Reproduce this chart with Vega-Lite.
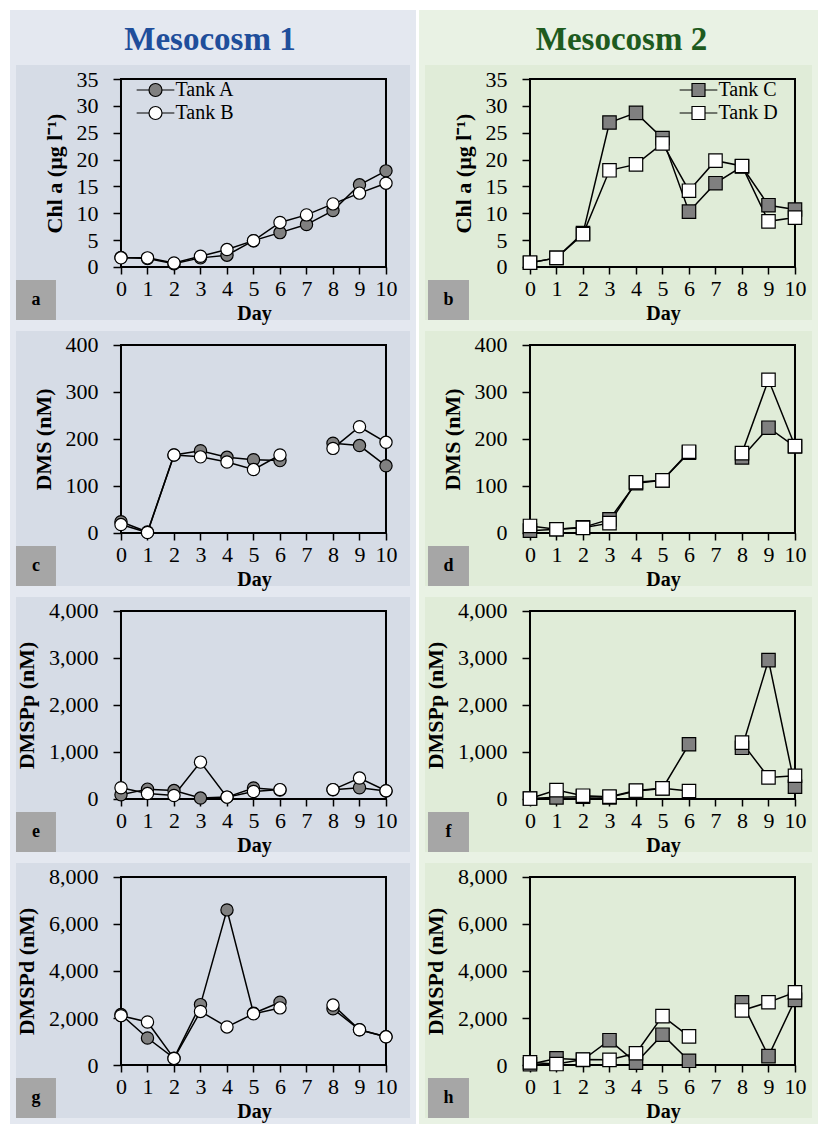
{
  "$schema": "https://vega.github.io/schema/vega-lite/v6.json",
  "background": "white",
  "padding": {"left": 10, "top": 10, "right": 0, "bottom": 0},
  "autosize": {"type": "pad"},
  "spacing": 3,
  "resolve": {"scale": {"fill": "independent", "x": "independent", "y": "independent"}, "legend": {"fill": "independent"}},
  "datasets": {
    "obs": [
      {"meso": "M1", "tank": "Tank A", "day": 0, "chl": 1.75, "dms": 24, "dmspp": 90, "dmspd": 2150},
      {"meso": "M1", "tank": "Tank A", "day": 1, "chl": 1.6, "dms": 2, "dmspp": 210, "dmspd": 1150},
      {"meso": "M1", "tank": "Tank A", "day": 2, "chl": 0.6, "dms": 166, "dmspp": 180, "dmspd": 290},
      {"meso": "M1", "tank": "Tank A", "day": 3, "chl": 1.7, "dms": 175, "dmspp": 20, "dmspd": 2570},
      {"meso": "M1", "tank": "Tank A", "day": 4, "chl": 2.2, "dms": 161, "dmspp": 40, "dmspd": 6600},
      {"meso": "M1", "tank": "Tank A", "day": 5, "chl": 4.9, "dms": 156, "dmspp": 235, "dmspd": 2200},
      {"meso": "M1", "tank": "Tank A", "day": 6, "chl": 6.4, "dms": 154, "dmspp": 190, "dmspd": 2670},
      {"meso": "M1", "tank": "Tank A", "day": 7, "chl": 7.9, "dms": null, "dmspp": null, "dmspd": null},
      {"meso": "M1", "tank": "Tank A", "day": 8, "chl": 10.5, "dms": 191, "dmspp": 195, "dmspd": 2390},
      {"meso": "M1", "tank": "Tank A", "day": 9, "chl": 15.3, "dms": 186, "dmspp": 240, "dmspd": 1500},
      {"meso": "M1", "tank": "Tank A", "day": 10, "chl": 17.9, "dms": 143, "dmspp": 170, "dmspd": 1200},
      {"meso": "M1", "tank": "Tank B", "day": 0, "chl": 1.7, "dms": 18, "dmspp": 240, "dmspd": 2100},
      {"meso": "M1", "tank": "Tank B", "day": 1, "chl": 1.7, "dms": 1, "dmspp": 115, "dmspd": 1830},
      {"meso": "M1", "tank": "Tank B", "day": 2, "chl": 0.75, "dms": 166, "dmspp": 75, "dmspd": 280},
      {"meso": "M1", "tank": "Tank B", "day": 3, "chl": 2.0, "dms": 162, "dmspp": 785, "dmspd": 2280},
      {"meso": "M1", "tank": "Tank B", "day": 4, "chl": 3.25, "dms": 151, "dmspp": 40, "dmspd": 1620},
      {"meso": "M1", "tank": "Tank B", "day": 5, "chl": 4.9, "dms": 135, "dmspp": 160, "dmspd": 2180},
      {"meso": "M1", "tank": "Tank B", "day": 6, "chl": 8.3, "dms": 166, "dmspp": 200, "dmspd": 2430},
      {"meso": "M1", "tank": "Tank B", "day": 7, "chl": 9.7, "dms": null, "dmspp": null, "dmspd": null},
      {"meso": "M1", "tank": "Tank B", "day": 8, "chl": 11.75, "dms": 180, "dmspp": 200, "dmspd": 2550},
      {"meso": "M1", "tank": "Tank B", "day": 9, "chl": 13.75, "dms": 226, "dmspp": 445, "dmspd": 1500},
      {"meso": "M1", "tank": "Tank B", "day": 10, "chl": 15.6, "dms": 193, "dmspp": 175, "dmspd": 1200},
      {"meso": "M2", "tank": "Tank C", "day": 0, "chl": 0.8, "dms": 5, "dmspp": 10, "dmspd": 30},
      {"meso": "M2", "tank": "Tank C", "day": 1, "chl": 1.7, "dms": 8, "dmspp": 35, "dmspd": 280},
      {"meso": "M2", "tank": "Tank C", "day": 2, "chl": 6.3, "dms": 12, "dmspp": 50, "dmspd": 220},
      {"meso": "M2", "tank": "Tank C", "day": 3, "chl": 26.9, "dms": 29, "dmspp": 35, "dmspd": 1055},
      {"meso": "M2", "tank": "Tank C", "day": 4, "chl": 28.7, "dms": 106, "dmspp": 170, "dmspd": 100},
      {"meso": "M2", "tank": "Tank C", "day": 5, "chl": 24.0, "dms": 112, "dmspp": 225, "dmspd": 1290},
      {"meso": "M2", "tank": "Tank C", "day": 6, "chl": 10.3, "dms": 171, "dmspp": 1165, "dmspd": 180},
      {"meso": "M2", "tank": "Tank C", "day": 7, "chl": 15.6, "dms": null, "dmspp": null, "dmspd": null},
      {"meso": "M2", "tank": "Tank C", "day": 8, "chl": 18.7, "dms": 161, "dmspp": 1090, "dmspd": 2670},
      {"meso": "M2", "tank": "Tank C", "day": 9, "chl": 11.5, "dms": 224, "dmspp": 2955, "dmspd": 380},
      {"meso": "M2", "tank": "Tank C", "day": 10, "chl": 10.7, "dms": 184, "dmspp": 262, "dmspd": 2770},
      {"meso": "M2", "tank": "Tank D", "day": 0, "chl": 0.8, "dms": 15, "dmspp": 10, "dmspd": 110},
      {"meso": "M2", "tank": "Tank D", "day": 1, "chl": 1.7, "dms": 8, "dmspp": 190, "dmspd": 40},
      {"meso": "M2", "tank": "Tank D", "day": 2, "chl": 6.1, "dms": 11, "dmspp": 70, "dmspd": 230},
      {"meso": "M2", "tank": "Tank D", "day": 3, "chl": 18.0, "dms": 21, "dmspp": 50, "dmspd": 220},
      {"meso": "M2", "tank": "Tank D", "day": 4, "chl": 19.1, "dms": 108, "dmspp": 180, "dmspd": 500},
      {"meso": "M2", "tank": "Tank D", "day": 5, "chl": 23.0, "dms": 112, "dmspp": 228, "dmspd": 2080},
      {"meso": "M2", "tank": "Tank D", "day": 6, "chl": 14.2, "dms": 173, "dmspp": 170, "dmspd": 1220},
      {"meso": "M2", "tank": "Tank D", "day": 7, "chl": 19.8, "dms": null, "dmspp": null, "dmspd": null},
      {"meso": "M2", "tank": "Tank D", "day": 8, "chl": 18.8, "dms": 170, "dmspp": 1200, "dmspd": 2320},
      {"meso": "M2", "tank": "Tank D", "day": 9, "chl": 8.5, "dms": 326, "dmspp": 460, "dmspd": 2670},
      {"meso": "M2", "tank": "Tank D", "day": 10, "chl": 9.2, "dms": 185, "dmspp": 495, "dmspd": 3090}
    ]
  },
  "hconcat": [
    {
      "bounds": "flush",
      "spacing": 5,
      "resolve": {"scale": {"fill": "independent", "x": "independent", "y": "independent"}, "legend": {"fill": "independent"}},
      "vconcat": [
        {
          "width": 400, "height": 44,
          "view": {"fill": "#e4e8f0", "stroke": "#e4e8f0", "strokeWidth": 6},
          "data": {"values": [{"label": "Mesocosm 1"}]},
          "mark": {"type": "text", "font": "Liberation Serif", "fontSize": 33, "fontWeight": "bold", "color": "#1f4e9b", "baseline": "alphabetic", "dy": 15, "dx": -3},
          "encoding": {"text": {"field": "label"}}
        },
        {
          "width": 400, "height": 261,
          "view": {"fill": "#d6dce6", "stroke": "#e4e8f0", "strokeWidth": 6},
          "layer": [
            {"data": {"name": "obs"}, "transform": [{"filter": {"field": "meso", "equal": "M1"}}],
             "mark": {"type": "line", "color": "black", "strokeWidth": 1.5},
             "encoding": {
               "x": {"field": "day", "type": "quantitative", "scale": {"domain": [-4.075, 11.019], "nice": false, "zero": false},
                     "axis": {"values": [0,1,2,3,4,5,6,7,8,9,10], "tickCount": 30, "format": "d", "labelOverlap": false, "labelFlush": false, "offset": -56, "tickSize": 7, "labelPadding": 4, "title": "Day", "titleFontSize": 20, "titleX": 241, "titleY": 52, "titleBaseline": "alphabetic"}},
               "y": {"field": "chl", "type": "quantitative", "scale": {"domain": [-10.426, 38.165], "nice": false, "zero": false},
                     "axis": {"values": [0,5,10,15,20,25,30,35], "tickCount": 30, "format": ",.0f", "labelOverlap": false, "labelFlush": false, "offset": -108, "tickSize": 8, "labelPadding": 15, "title": "Chl a (µg l⁻¹)", "titleY": 111, "titlePadding": 10}},
               "detail": {"field": "tank"}}},
            {"data": {"values": [{"panel": "a"}]}, "mark": {"type": "rect", "fillOpacity": 0, "stroke": "black", "strokeWidth": 2},
             "encoding": {"x": {"datum": 0, "type": "quantitative", "scale": {"domain": [-4.075, 11.019], "nice": false, "zero": false}}, "x2": {"datum": 10},
                          "y": {"datum": 0, "type": "quantitative", "scale": {"domain": [-10.426, 38.165], "nice": false, "zero": false}}, "y2": {"datum": 35}}},
            {"data": {"values": [{"panel": "a"}]}, "mark": {"type": "rect", "fill": "#a6a6a6"},
             "encoding": {"x": {"datum": -3.962, "type": "quantitative", "scale": {"domain": [-4.075, 11.019], "nice": false, "zero": false}}, "x2": {"datum": -2.453},
                          "y": {"datum": -2.42, "type": "quantitative", "scale": {"domain": [-10.426, 38.165], "nice": false, "zero": false}}, "y2": {"datum": -9.867}}},
            {"data": {"values": [{"panel": "a"}]}, "mark": {"type": "text", "font": "Liberation Serif", "fontSize": 18, "fontWeight": "bold", "color": "black"},
             "encoding": {"x": {"datum": -3.208, "type": "quantitative", "scale": {"domain": [-4.075, 11.019], "nice": false, "zero": false}},
                          "y": {"datum": -6.144, "type": "quantitative", "scale": {"domain": [-10.426, 38.165], "nice": false, "zero": false}}, "text": {"field": "panel"}}},
            {"data": {"name": "obs"}, "transform": [{"filter": {"field": "meso", "equal": "M1"}}],
             "mark": {"type": "point", "shape": "circle", "filled": true, "stroke": "black", "strokeWidth": 1.2, "size": 150, "opacity": 1},
             "encoding": {
               "x": {"field": "day", "type": "quantitative", "scale": {"domain": [-4.075, 11.019], "nice": false, "zero": false}},
               "y": {"field": "chl", "type": "quantitative", "scale": {"domain": [-10.426, 38.165], "nice": false, "zero": false}},
               "fill": {"field": "tank", "type": "nominal", "scale": {"domain": ["Tank A", "Tank B"], "range": ["#808080", "#ffffff"]},
                        "legend": {"orient": "none", "legendX": 132.5, "legendY": 18, "title": null, "padding": 0,
                                   "symbolType": "M-2.9,0L-1,0M1,0L2.9,0M-1,0A1,1,0,1,1,1,0A1,1,0,1,1,-1,0Z",
                                   "symbolSize": 169, "symbolStrokeColor": "black", "symbolStrokeWidth": 1.2, "symbolOpacity": 1,
                                   "labelFont": "Liberation Serif", "labelFontSize": 20, "labelColor": "black", "labelOffset": 10, "rowPadding": 3}}}}
          ]
        },
        {
          "width": 400, "height": 261,
          "view": {"fill": "#d6dce6", "stroke": "#e4e8f0", "strokeWidth": 6},
          "layer": [
            {"data": {"name": "obs"}, "transform": [{"filter": {"field": "meso", "equal": "M1"}}],
             "mark": {"type": "line", "color": "black", "strokeWidth": 1.5},
             "encoding": {
               "x": {"field": "day", "type": "quantitative", "scale": {"domain": [-4.075, 11.019], "nice": false, "zero": false},
                     "axis": {"values": [0,1,2,3,4,5,6,7,8,9,10], "tickCount": 30, "format": "d", "labelOverlap": false, "labelFlush": false, "offset": -56, "tickSize": 7, "labelPadding": 4, "title": "Day", "titleFontSize": 20, "titleX": 241, "titleY": 52, "titleBaseline": "alphabetic"}},
               "y": {"field": "dms", "type": "quantitative", "scale": {"domain": [-119.15, 436.17], "nice": false, "zero": false},
                     "axis": {"values": [0,100,200,300,400], "tickCount": 30, "format": ",.0f", "labelOverlap": false, "labelFlush": false, "offset": -108, "tickSize": 8, "labelPadding": 15, "title": "DMS (nM)", "titleY": 111, "titlePadding": 10}},
               "detail": {"field": "tank"}}},
            {"data": {"values": [{"panel": "c"}]}, "mark": {"type": "rect", "fillOpacity": 0, "stroke": "black", "strokeWidth": 2},
             "encoding": {"x": {"datum": 0, "type": "quantitative", "scale": {"domain": [-4.075, 11.019], "nice": false, "zero": false}}, "x2": {"datum": 10},
                          "y": {"datum": 0, "type": "quantitative", "scale": {"domain": [-119.15, 436.17], "nice": false, "zero": false}}, "y2": {"datum": 400}}},
            {"data": {"values": [{"panel": "c"}]}, "mark": {"type": "rect", "fill": "#a6a6a6"},
             "encoding": {"x": {"datum": -3.962, "type": "quantitative", "scale": {"domain": [-4.075, 11.019], "nice": false, "zero": false}}, "x2": {"datum": -2.453},
                          "y": {"datum": -27.66, "type": "quantitative", "scale": {"domain": [-119.15, 436.17], "nice": false, "zero": false}}, "y2": {"datum": -112.77}}},
            {"data": {"values": [{"panel": "c"}]}, "mark": {"type": "text", "font": "Liberation Serif", "fontSize": 18, "fontWeight": "bold", "color": "black"},
             "encoding": {"x": {"datum": -3.208, "type": "quantitative", "scale": {"domain": [-4.075, 11.019], "nice": false, "zero": false}},
                          "y": {"datum": -70.21, "type": "quantitative", "scale": {"domain": [-119.15, 436.17], "nice": false, "zero": false}}, "text": {"field": "panel"}}},
            {"data": {"name": "obs"}, "transform": [{"filter": {"field": "meso", "equal": "M1"}}],
             "mark": {"type": "point", "shape": "circle", "filled": true, "stroke": "black", "strokeWidth": 1.2, "size": 150, "opacity": 1},
             "encoding": {
               "x": {"field": "day", "type": "quantitative", "scale": {"domain": [-4.075, 11.019], "nice": false, "zero": false}},
               "y": {"field": "dms", "type": "quantitative", "scale": {"domain": [-119.15, 436.17], "nice": false, "zero": false}},
               "fill": {"field": "tank", "type": "nominal", "scale": {"domain": ["Tank A", "Tank B"], "range": ["#808080", "#ffffff"]}, "legend": null}}}
          ]
        },
        {
          "width": 400, "height": 261,
          "view": {"fill": "#d6dce6", "stroke": "#e4e8f0", "strokeWidth": 6},
          "layer": [
            {"data": {"name": "obs"}, "transform": [{"filter": {"field": "meso", "equal": "M1"}}],
             "mark": {"type": "line", "color": "black", "strokeWidth": 1.5},
             "encoding": {
               "x": {"field": "day", "type": "quantitative", "scale": {"domain": [-4.075, 11.019], "nice": false, "zero": false},
                     "axis": {"values": [0,1,2,3,4,5,6,7,8,9,10], "tickCount": 30, "format": "d", "labelOverlap": false, "labelFlush": false, "offset": -56, "tickSize": 7, "labelPadding": 4, "title": "Day", "titleFontSize": 20, "titleX": 241, "titleY": 52, "titleBaseline": "alphabetic"}},
               "y": {"field": "dmspp", "type": "quantitative", "scale": {"domain": [-1191.49, 4361.7], "nice": false, "zero": false},
                     "axis": {"values": [0,1000,2000,3000,4000], "tickCount": 30, "format": ",.0f", "labelOverlap": false, "labelFlush": false, "offset": -108, "tickSize": 8, "labelPadding": 15, "title": "DMSPp (nM)", "titleY": 111, "titlePadding": 10}},
               "detail": {"field": "tank"}}},
            {"data": {"values": [{"panel": "e"}]}, "mark": {"type": "rect", "fillOpacity": 0, "stroke": "black", "strokeWidth": 2},
             "encoding": {"x": {"datum": 0, "type": "quantitative", "scale": {"domain": [-4.075, 11.019], "nice": false, "zero": false}}, "x2": {"datum": 10},
                          "y": {"datum": 0, "type": "quantitative", "scale": {"domain": [-1191.49, 4361.7], "nice": false, "zero": false}}, "y2": {"datum": 4000}}},
            {"data": {"values": [{"panel": "e"}]}, "mark": {"type": "rect", "fill": "#a6a6a6"},
             "encoding": {"x": {"datum": -3.962, "type": "quantitative", "scale": {"domain": [-4.075, 11.019], "nice": false, "zero": false}}, "x2": {"datum": -2.453},
                          "y": {"datum": -276.6, "type": "quantitative", "scale": {"domain": [-1191.49, 4361.7], "nice": false, "zero": false}}, "y2": {"datum": -1127.7}}},
            {"data": {"values": [{"panel": "e"}]}, "mark": {"type": "text", "font": "Liberation Serif", "fontSize": 18, "fontWeight": "bold", "color": "black"},
             "encoding": {"x": {"datum": -3.208, "type": "quantitative", "scale": {"domain": [-4.075, 11.019], "nice": false, "zero": false}},
                          "y": {"datum": -702.1, "type": "quantitative", "scale": {"domain": [-1191.49, 4361.7], "nice": false, "zero": false}}, "text": {"field": "panel"}}},
            {"data": {"name": "obs"}, "transform": [{"filter": {"field": "meso", "equal": "M1"}}],
             "mark": {"type": "point", "shape": "circle", "filled": true, "stroke": "black", "strokeWidth": 1.2, "size": 150, "opacity": 1},
             "encoding": {
               "x": {"field": "day", "type": "quantitative", "scale": {"domain": [-4.075, 11.019], "nice": false, "zero": false}},
               "y": {"field": "dmspp", "type": "quantitative", "scale": {"domain": [-1191.49, 4361.7], "nice": false, "zero": false}},
               "fill": {"field": "tank", "type": "nominal", "scale": {"domain": ["Tank A", "Tank B"], "range": ["#808080", "#ffffff"]}, "legend": null}}}
          ]
        },
        {
          "width": 400, "height": 261,
          "view": {"fill": "#d6dce6", "stroke": "#e4e8f0", "strokeWidth": 6},
          "layer": [
            {"data": {"name": "obs"}, "transform": [{"filter": {"field": "meso", "equal": "M1"}}],
             "mark": {"type": "line", "color": "black", "strokeWidth": 1.5},
             "encoding": {
               "x": {"field": "day", "type": "quantitative", "scale": {"domain": [-4.075, 11.019], "nice": false, "zero": false},
                     "axis": {"values": [0,1,2,3,4,5,6,7,8,9,10], "tickCount": 30, "format": "d", "labelOverlap": false, "labelFlush": false, "offset": -56, "tickSize": 7, "labelPadding": 4, "title": "Day", "titleFontSize": 20, "titleX": 241, "titleY": 52, "titleBaseline": "alphabetic"}},
               "y": {"field": "dmspd", "type": "quantitative", "scale": {"domain": [-2382.98, 8723.4], "nice": false, "zero": false},
                     "axis": {"values": [0,2000,4000,6000,8000], "tickCount": 30, "format": ",.0f", "labelOverlap": false, "labelFlush": false, "offset": -108, "tickSize": 8, "labelPadding": 15, "title": "DMSPd (nM)", "titleY": 111, "titlePadding": 10}},
               "detail": {"field": "tank"}}},
            {"data": {"values": [{"panel": "g"}]}, "mark": {"type": "rect", "fillOpacity": 0, "stroke": "black", "strokeWidth": 2},
             "encoding": {"x": {"datum": 0, "type": "quantitative", "scale": {"domain": [-4.075, 11.019], "nice": false, "zero": false}}, "x2": {"datum": 10},
                          "y": {"datum": 0, "type": "quantitative", "scale": {"domain": [-2382.98, 8723.4], "nice": false, "zero": false}}, "y2": {"datum": 8000}}},
            {"data": {"values": [{"panel": "g"}]}, "mark": {"type": "rect", "fill": "#a6a6a6"},
             "encoding": {"x": {"datum": -3.962, "type": "quantitative", "scale": {"domain": [-4.075, 11.019], "nice": false, "zero": false}}, "x2": {"datum": -2.453},
                          "y": {"datum": -553.2, "type": "quantitative", "scale": {"domain": [-2382.98, 8723.4], "nice": false, "zero": false}}, "y2": {"datum": -2255.3}}},
            {"data": {"values": [{"panel": "g"}]}, "mark": {"type": "text", "font": "Liberation Serif", "fontSize": 18, "fontWeight": "bold", "color": "black"},
             "encoding": {"x": {"datum": -3.208, "type": "quantitative", "scale": {"domain": [-4.075, 11.019], "nice": false, "zero": false}},
                          "y": {"datum": -1404.3, "type": "quantitative", "scale": {"domain": [-2382.98, 8723.4], "nice": false, "zero": false}}, "text": {"field": "panel"}}},
            {"data": {"name": "obs"}, "transform": [{"filter": {"field": "meso", "equal": "M1"}}],
             "mark": {"type": "point", "shape": "circle", "filled": true, "stroke": "black", "strokeWidth": 1.2, "size": 150, "opacity": 1},
             "encoding": {
               "x": {"field": "day", "type": "quantitative", "scale": {"domain": [-4.075, 11.019], "nice": false, "zero": false}},
               "y": {"field": "dmspd", "type": "quantitative", "scale": {"domain": [-2382.98, 8723.4], "nice": false, "zero": false}},
               "fill": {"field": "tank", "type": "nominal", "scale": {"domain": ["Tank A", "Tank B"], "range": ["#808080", "#ffffff"]}, "legend": null}}}
          ]
        }
      ]
    },
    {
      "bounds": "flush",
      "spacing": 5,
      "resolve": {"scale": {"fill": "independent", "x": "independent", "y": "independent"}, "legend": {"fill": "independent"}},
      "vconcat": [
        {
          "width": 393, "height": 44,
          "view": {"fill": "#e9f2e4", "stroke": "#e9f2e4", "strokeWidth": 6},
          "data": {"values": [{"label": "Mesocosm 2"}]},
          "mark": {"type": "text", "font": "Liberation Serif", "fontSize": 33, "fontWeight": "bold", "color": "#1e5b1e", "baseline": "alphabetic", "dy": 15, "dx": 3},
          "encoding": {"text": {"field": "label"}}
        },
        {
          "width": 393, "height": 261,
          "view": {"fill": "#e0ecd8", "stroke": "#e9f2e4", "strokeWidth": 6},
          "layer": [
            {"data": {"name": "obs"}, "transform": [{"filter": {"field": "meso", "equal": "M2"}}],
             "mark": {"type": "line", "color": "black", "strokeWidth": 1.5},
             "encoding": {
               "x": {"field": "day", "type": "quantitative", "scale": {"domain": [-4.075, 10.755], "nice": false, "zero": false},
                     "axis": {"values": [0,1,2,3,4,5,6,7,8,9,10], "tickCount": 30, "format": "d", "labelOverlap": false, "labelFlush": false, "offset": -56, "tickSize": 7, "labelPadding": 4, "title": "Day", "titleFontSize": 20, "titleX": 241, "titleY": 52, "titleBaseline": "alphabetic"}},
               "y": {"field": "chl", "type": "quantitative", "scale": {"domain": [-10.426, 38.165], "nice": false, "zero": false},
                     "axis": {"values": [0,5,10,15,20,25,30,35], "tickCount": 30, "format": ",.0f", "labelOverlap": false, "labelFlush": false, "offset": -108, "tickSize": 8, "labelPadding": 15, "title": "Chl a (µg l⁻¹)", "titleY": 111, "titlePadding": 10}},
               "detail": {"field": "tank"}}},
            {"data": {"values": [{"panel": "b"}]}, "mark": {"type": "rect", "fillOpacity": 0, "stroke": "black", "strokeWidth": 2},
             "encoding": {"x": {"datum": 0, "type": "quantitative", "scale": {"domain": [-4.075, 10.755], "nice": false, "zero": false}}, "x2": {"datum": 10},
                          "y": {"datum": 0, "type": "quantitative", "scale": {"domain": [-10.426, 38.165], "nice": false, "zero": false}}, "y2": {"datum": 35}}},
            {"data": {"values": [{"panel": "b"}]}, "mark": {"type": "rect", "fill": "#a6a6a6"},
             "encoding": {"x": {"datum": -3.849, "type": "quantitative", "scale": {"domain": [-4.075, 10.755], "nice": false, "zero": false}}, "x2": {"datum": -2.302},
                          "y": {"datum": -2.42, "type": "quantitative", "scale": {"domain": [-10.426, 38.165], "nice": false, "zero": false}}, "y2": {"datum": -9.867}}},
            {"data": {"values": [{"panel": "b"}]}, "mark": {"type": "text", "font": "Liberation Serif", "fontSize": 18, "fontWeight": "bold", "color": "black"},
             "encoding": {"x": {"datum": -3.075, "type": "quantitative", "scale": {"domain": [-4.075, 10.755], "nice": false, "zero": false}},
                          "y": {"datum": -6.144, "type": "quantitative", "scale": {"domain": [-10.426, 38.165], "nice": false, "zero": false}}, "text": {"field": "panel"}}},
            {"data": {"name": "obs"}, "transform": [{"filter": {"field": "meso", "equal": "M2"}}],
             "mark": {"type": "point", "shape": "square", "filled": true, "stroke": "black", "strokeWidth": 1.2, "size": 180, "opacity": 1},
             "encoding": {
               "x": {"field": "day", "type": "quantitative", "scale": {"domain": [-4.075, 10.755], "nice": false, "zero": false}},
               "y": {"field": "chl", "type": "quantitative", "scale": {"domain": [-10.426, 38.165], "nice": false, "zero": false}},
               "fill": {"field": "tank", "type": "nominal", "scale": {"domain": ["Tank C", "Tank D"], "range": ["#808080", "#ffffff"]},
                        "legend": {"orient": "none", "legendX": 266.5, "legendY": 18, "title": null, "padding": 0,
                                   "symbolType": "M-2.9,0L-1,0M1,0L2.9,0M-1,-1L1,-1L1,1L-1,1Z",
                                   "symbolSize": 169, "symbolStrokeColor": "black", "symbolStrokeWidth": 1.2, "symbolOpacity": 1,
                                   "labelFont": "Liberation Serif", "labelFontSize": 20, "labelColor": "black", "labelOffset": 10, "rowPadding": 3}}}}
          ]
        },
        {
          "width": 393, "height": 261,
          "view": {"fill": "#e0ecd8", "stroke": "#e9f2e4", "strokeWidth": 6},
          "layer": [
            {"data": {"name": "obs"}, "transform": [{"filter": {"field": "meso", "equal": "M2"}}],
             "mark": {"type": "line", "color": "black", "strokeWidth": 1.5},
             "encoding": {
               "x": {"field": "day", "type": "quantitative", "scale": {"domain": [-4.075, 10.755], "nice": false, "zero": false},
                     "axis": {"values": [0,1,2,3,4,5,6,7,8,9,10], "tickCount": 30, "format": "d", "labelOverlap": false, "labelFlush": false, "offset": -56, "tickSize": 7, "labelPadding": 4, "title": "Day", "titleFontSize": 20, "titleX": 241, "titleY": 52, "titleBaseline": "alphabetic"}},
               "y": {"field": "dms", "type": "quantitative", "scale": {"domain": [-119.15, 436.17], "nice": false, "zero": false},
                     "axis": {"values": [0,100,200,300,400], "tickCount": 30, "format": ",.0f", "labelOverlap": false, "labelFlush": false, "offset": -108, "tickSize": 8, "labelPadding": 15, "title": "DMS (nM)", "titleY": 111, "titlePadding": 10}},
               "detail": {"field": "tank"}}},
            {"data": {"values": [{"panel": "d"}]}, "mark": {"type": "rect", "fillOpacity": 0, "stroke": "black", "strokeWidth": 2},
             "encoding": {"x": {"datum": 0, "type": "quantitative", "scale": {"domain": [-4.075, 10.755], "nice": false, "zero": false}}, "x2": {"datum": 10},
                          "y": {"datum": 0, "type": "quantitative", "scale": {"domain": [-119.15, 436.17], "nice": false, "zero": false}}, "y2": {"datum": 400}}},
            {"data": {"values": [{"panel": "d"}]}, "mark": {"type": "rect", "fill": "#a6a6a6"},
             "encoding": {"x": {"datum": -3.849, "type": "quantitative", "scale": {"domain": [-4.075, 10.755], "nice": false, "zero": false}}, "x2": {"datum": -2.302},
                          "y": {"datum": -27.66, "type": "quantitative", "scale": {"domain": [-119.15, 436.17], "nice": false, "zero": false}}, "y2": {"datum": -112.77}}},
            {"data": {"values": [{"panel": "d"}]}, "mark": {"type": "text", "font": "Liberation Serif", "fontSize": 18, "fontWeight": "bold", "color": "black"},
             "encoding": {"x": {"datum": -3.075, "type": "quantitative", "scale": {"domain": [-4.075, 10.755], "nice": false, "zero": false}},
                          "y": {"datum": -70.21, "type": "quantitative", "scale": {"domain": [-119.15, 436.17], "nice": false, "zero": false}}, "text": {"field": "panel"}}},
            {"data": {"name": "obs"}, "transform": [{"filter": {"field": "meso", "equal": "M2"}}],
             "mark": {"type": "point", "shape": "square", "filled": true, "stroke": "black", "strokeWidth": 1.2, "size": 180, "opacity": 1},
             "encoding": {
               "x": {"field": "day", "type": "quantitative", "scale": {"domain": [-4.075, 10.755], "nice": false, "zero": false}},
               "y": {"field": "dms", "type": "quantitative", "scale": {"domain": [-119.15, 436.17], "nice": false, "zero": false}},
               "fill": {"field": "tank", "type": "nominal", "scale": {"domain": ["Tank C", "Tank D"], "range": ["#808080", "#ffffff"]}, "legend": null}}}
          ]
        },
        {
          "width": 393, "height": 261,
          "view": {"fill": "#e0ecd8", "stroke": "#e9f2e4", "strokeWidth": 6},
          "layer": [
            {"data": {"name": "obs"}, "transform": [{"filter": {"field": "meso", "equal": "M2"}}],
             "mark": {"type": "line", "color": "black", "strokeWidth": 1.5},
             "encoding": {
               "x": {"field": "day", "type": "quantitative", "scale": {"domain": [-4.075, 10.755], "nice": false, "zero": false},
                     "axis": {"values": [0,1,2,3,4,5,6,7,8,9,10], "tickCount": 30, "format": "d", "labelOverlap": false, "labelFlush": false, "offset": -56, "tickSize": 7, "labelPadding": 4, "title": "Day", "titleFontSize": 20, "titleX": 241, "titleY": 52, "titleBaseline": "alphabetic"}},
               "y": {"field": "dmspp", "type": "quantitative", "scale": {"domain": [-1191.49, 4361.7], "nice": false, "zero": false},
                     "axis": {"values": [0,1000,2000,3000,4000], "tickCount": 30, "format": ",.0f", "labelOverlap": false, "labelFlush": false, "offset": -108, "tickSize": 8, "labelPadding": 15, "title": "DMSPp (nM)", "titleY": 111, "titlePadding": 10}},
               "detail": {"field": "tank"}}},
            {"data": {"values": [{"panel": "f"}]}, "mark": {"type": "rect", "fillOpacity": 0, "stroke": "black", "strokeWidth": 2},
             "encoding": {"x": {"datum": 0, "type": "quantitative", "scale": {"domain": [-4.075, 10.755], "nice": false, "zero": false}}, "x2": {"datum": 10},
                          "y": {"datum": 0, "type": "quantitative", "scale": {"domain": [-1191.49, 4361.7], "nice": false, "zero": false}}, "y2": {"datum": 4000}}},
            {"data": {"values": [{"panel": "f"}]}, "mark": {"type": "rect", "fill": "#a6a6a6"},
             "encoding": {"x": {"datum": -3.849, "type": "quantitative", "scale": {"domain": [-4.075, 10.755], "nice": false, "zero": false}}, "x2": {"datum": -2.302},
                          "y": {"datum": -276.6, "type": "quantitative", "scale": {"domain": [-1191.49, 4361.7], "nice": false, "zero": false}}, "y2": {"datum": -1127.7}}},
            {"data": {"values": [{"panel": "f"}]}, "mark": {"type": "text", "font": "Liberation Serif", "fontSize": 18, "fontWeight": "bold", "color": "black"},
             "encoding": {"x": {"datum": -3.075, "type": "quantitative", "scale": {"domain": [-4.075, 10.755], "nice": false, "zero": false}},
                          "y": {"datum": -702.1, "type": "quantitative", "scale": {"domain": [-1191.49, 4361.7], "nice": false, "zero": false}}, "text": {"field": "panel"}}},
            {"data": {"name": "obs"}, "transform": [{"filter": {"field": "meso", "equal": "M2"}}],
             "mark": {"type": "point", "shape": "square", "filled": true, "stroke": "black", "strokeWidth": 1.2, "size": 180, "opacity": 1},
             "encoding": {
               "x": {"field": "day", "type": "quantitative", "scale": {"domain": [-4.075, 10.755], "nice": false, "zero": false}},
               "y": {"field": "dmspp", "type": "quantitative", "scale": {"domain": [-1191.49, 4361.7], "nice": false, "zero": false}},
               "fill": {"field": "tank", "type": "nominal", "scale": {"domain": ["Tank C", "Tank D"], "range": ["#808080", "#ffffff"]}, "legend": null}}}
          ]
        },
        {
          "width": 393, "height": 261,
          "view": {"fill": "#e0ecd8", "stroke": "#e9f2e4", "strokeWidth": 6},
          "layer": [
            {"data": {"name": "obs"}, "transform": [{"filter": {"field": "meso", "equal": "M2"}}],
             "mark": {"type": "line", "color": "black", "strokeWidth": 1.5},
             "encoding": {
               "x": {"field": "day", "type": "quantitative", "scale": {"domain": [-4.075, 10.755], "nice": false, "zero": false},
                     "axis": {"values": [0,1,2,3,4,5,6,7,8,9,10], "tickCount": 30, "format": "d", "labelOverlap": false, "labelFlush": false, "offset": -56, "tickSize": 7, "labelPadding": 4, "title": "Day", "titleFontSize": 20, "titleX": 241, "titleY": 52, "titleBaseline": "alphabetic"}},
               "y": {"field": "dmspd", "type": "quantitative", "scale": {"domain": [-2382.98, 8723.4], "nice": false, "zero": false},
                     "axis": {"values": [0,2000,4000,6000,8000], "tickCount": 30, "format": ",.0f", "labelOverlap": false, "labelFlush": false, "offset": -108, "tickSize": 8, "labelPadding": 15, "title": "DMSPd (nM)", "titleY": 111, "titlePadding": 10}},
               "detail": {"field": "tank"}}},
            {"data": {"values": [{"panel": "h"}]}, "mark": {"type": "rect", "fillOpacity": 0, "stroke": "black", "strokeWidth": 2},
             "encoding": {"x": {"datum": 0, "type": "quantitative", "scale": {"domain": [-4.075, 10.755], "nice": false, "zero": false}}, "x2": {"datum": 10},
                          "y": {"datum": 0, "type": "quantitative", "scale": {"domain": [-2382.98, 8723.4], "nice": false, "zero": false}}, "y2": {"datum": 8000}}},
            {"data": {"values": [{"panel": "h"}]}, "mark": {"type": "rect", "fill": "#a6a6a6"},
             "encoding": {"x": {"datum": -3.849, "type": "quantitative", "scale": {"domain": [-4.075, 10.755], "nice": false, "zero": false}}, "x2": {"datum": -2.302},
                          "y": {"datum": -553.2, "type": "quantitative", "scale": {"domain": [-2382.98, 8723.4], "nice": false, "zero": false}}, "y2": {"datum": -2255.3}}},
            {"data": {"values": [{"panel": "h"}]}, "mark": {"type": "text", "font": "Liberation Serif", "fontSize": 18, "fontWeight": "bold", "color": "black"},
             "encoding": {"x": {"datum": -3.075, "type": "quantitative", "scale": {"domain": [-4.075, 10.755], "nice": false, "zero": false}},
                          "y": {"datum": -1404.3, "type": "quantitative", "scale": {"domain": [-2382.98, 8723.4], "nice": false, "zero": false}}, "text": {"field": "panel"}}},
            {"data": {"name": "obs"}, "transform": [{"filter": {"field": "meso", "equal": "M2"}}],
             "mark": {"type": "point", "shape": "square", "filled": true, "stroke": "black", "strokeWidth": 1.2, "size": 180, "opacity": 1},
             "encoding": {
               "x": {"field": "day", "type": "quantitative", "scale": {"domain": [-4.075, 10.755], "nice": false, "zero": false}},
               "y": {"field": "dmspd", "type": "quantitative", "scale": {"domain": [-2382.98, 8723.4], "nice": false, "zero": false}},
               "fill": {"field": "tank", "type": "nominal", "scale": {"domain": ["Tank C", "Tank D"], "range": ["#808080", "#ffffff"]}, "legend": null}}}
          ]
        }
      ]
    }
  ],
  "config": {
    "font": "Liberation Serif",
    "axis": {"labelFont": "Liberation Serif", "labelFontSize": 22, "labelColor": "#000", "titleFont": "Liberation Serif", "titleFontSize": 22, "titleFontWeight": "bold", "titleColor": "#000",
             "domain": false, "grid": false, "ticks": true, "tickColor": "#000", "tickWidth": 1.5, "labelFlush": false, "labelOverlap": false}
  }
}
